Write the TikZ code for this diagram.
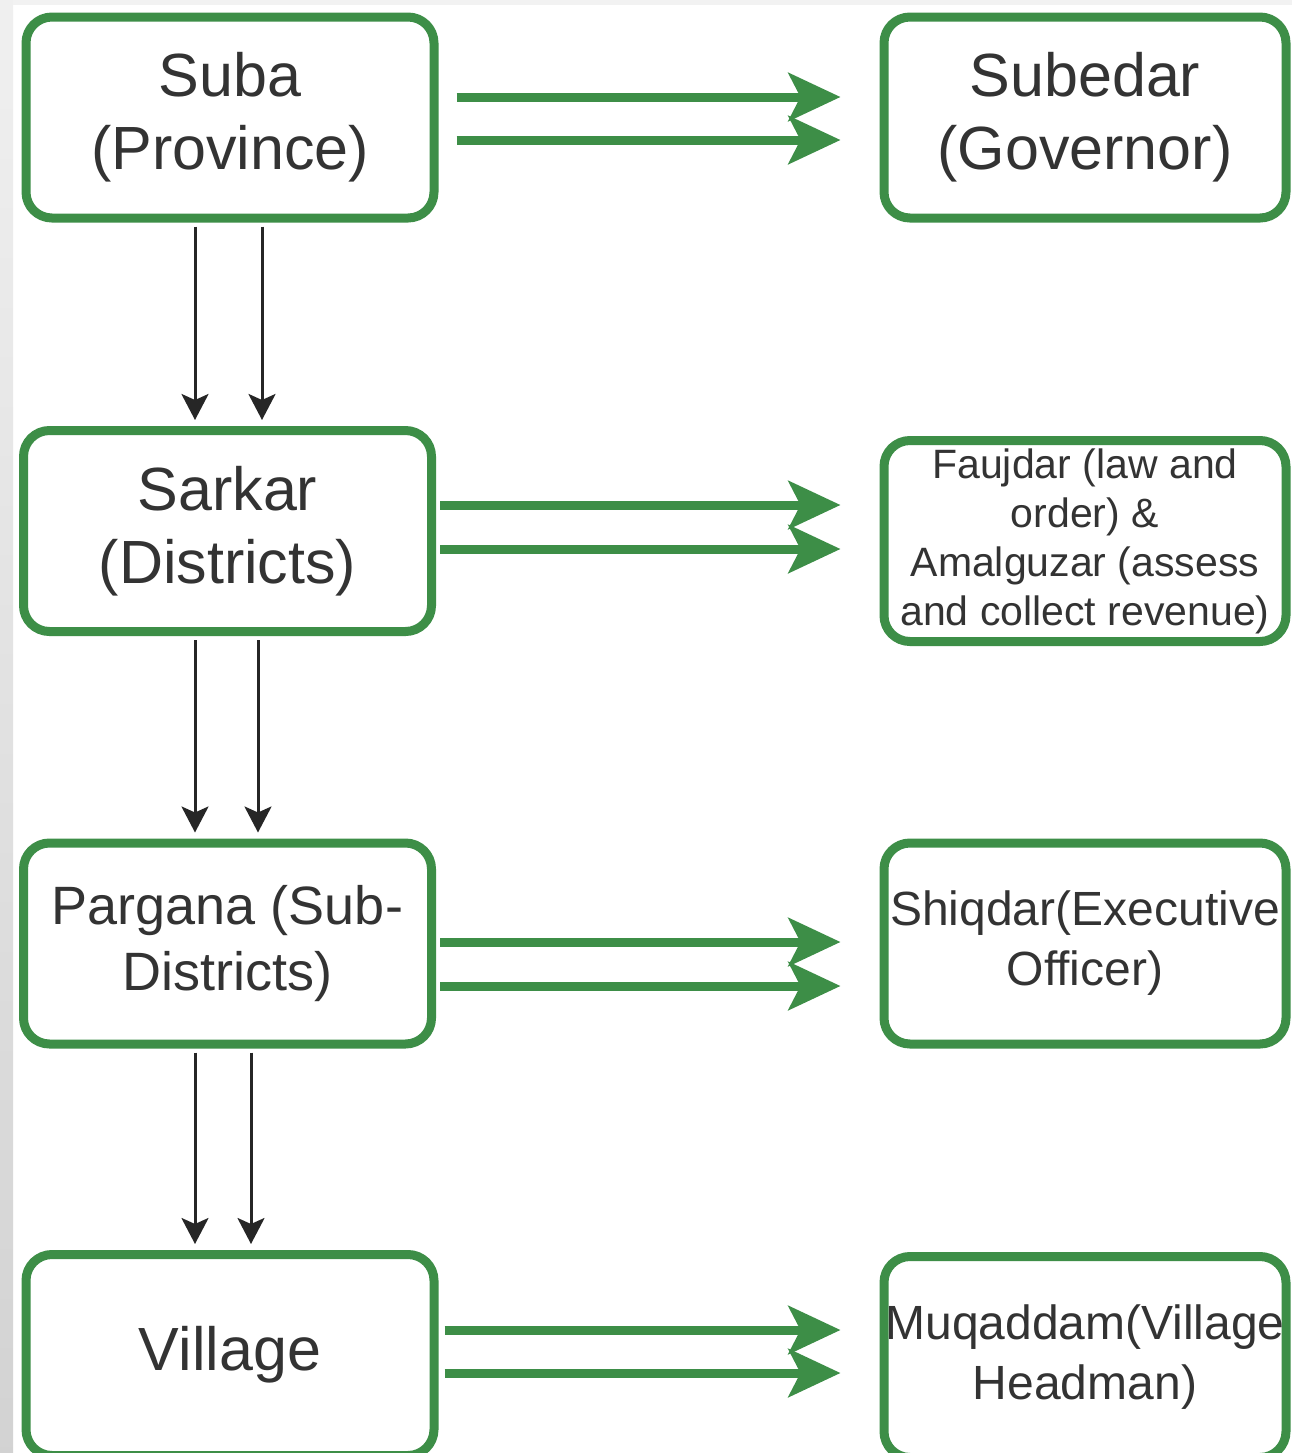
\documentclass[tikz,border=0pt]{standalone}
\usepackage{fontspec}
\setmainfont{Liberation Sans}
\usetikzlibrary{arrows.meta,calc}
\definecolor{boxgreen}{RGB}{61,142,71}
\definecolor{txt}{RGB}{51,51,51}
\begin{document}
\begin{tikzpicture}[x=0.5pt,y=-0.5pt,
  box/.style={draw=boxgreen, line width=4.5pt, rounded corners=13pt, fill=white,
    align=center, text=txt, inner sep=0pt},
  leftbox/.style={box, minimum width=204pt, minimum height=100.5pt},
  rightbox/.style={box, minimum width=201pt, minimum height=100.5pt},
  bigtext/.style={font=\fontsize{30.5}{36.5}\selectfont},
  midtext/.style={font=\fontsize{27}{33}\selectfont},
  smalltext/.style={font=\fontsize{24}{30}\selectfont},
  tinytext/.style={font=\fontsize{20.5}{24.5}\selectfont},
  garrow/.style={draw=boxgreen, line width=4.5pt,
    -{Stealth[length=26pt,width=24pt,inset=6pt]}},
  karrow/.style={draw=black!85, line width=1.5pt,
    -{Stealth[length=13pt,width=13.5pt,inset=3pt]}}
]
\useasboundingbox (0,0) rectangle (1292,1453);
\fill[white] (0,0) rectangle (1292,1453);
\shade[top color=gray!12, bottom color=gray!35] (0,0) rectangle (13,1453);
\fill[gray!10] (13,0) rectangle (1292,5);

% left column
\node[leftbox,bigtext] (suba) at (230,117.5) {Suba\\(Province)};
\node[leftbox,bigtext] (sarkar) at (227.5,531) {Sarkar\\(Districts)};
\node[leftbox,midtext] (pargana) at (227.5,943.5) {Pargana (Sub-\\Districts)};
\node[leftbox,bigtext] (village) at (230,1355) {Village};

% right column
\node[rightbox,bigtext] (subedar) at (1085,117.5) {Subedar\\(Governor)};
\node[rightbox,tinytext] (faujdar) at (1085,541) {Faujdar (law and\\order) \&\\Amalguzar (assess\\and collect revenue)};
\node[rightbox,smalltext] (shiqdar) at (1085,943.5) {Shiqdar(Executive\\Officer)};
\node[rightbox,smalltext] (muqaddam) at (1085,1357) {Muqaddam(Village\\Headman)};

% green double arrows
\draw[garrow, shorten <=9pt, shorten >=19.5pt] ($(suba.east)+(0,-20.5)$) -- ($(subedar.west)+(0,-20.5)$);
\draw[garrow, shorten <=9pt, shorten >=19.5pt] ($(suba.east)+(0,22.5)$) -- ($(subedar.west)+(0,22.5)$);
\draw[garrow, shorten <=2pt, shorten >=19.5pt] ($(sarkar.east)+(0,-26)$) -- ($(faujdar.west)+(0,-36)$);
\draw[garrow, shorten <=2pt, shorten >=19.5pt] ($(sarkar.east)+(0,18)$) -- ($(faujdar.west)+(0,8)$);
\draw[garrow, shorten <=2pt, shorten >=19.5pt] ($(pargana.east)+(0,-1.5)$) -- ($(shiqdar.west)+(0,-1.5)$);
\draw[garrow, shorten <=2pt, shorten >=19.5pt] ($(pargana.east)+(0,42.5)$) -- ($(shiqdar.west)+(0,42.5)$);
\draw[garrow, shorten <=3pt, shorten >=19.5pt] ($(village.east)+(0,-25)$) -- ($(muqaddam.west)+(0,-27)$);
\draw[garrow, shorten <=3pt, shorten >=19.5pt] ($(village.east)+(0,18)$) -- ($(muqaddam.west)+(0,16)$);

% black double arrows
\draw[karrow, shorten <=2pt, shorten >=3pt] ($(suba.south)+(-35,0)$) -- ($(sarkar.north)+(-32.5,0)$);
\draw[karrow, shorten <=2pt, shorten >=3pt] ($(suba.south)+(32,0)$) -- ($(sarkar.north)+(34.5,0)$);
\draw[karrow, shorten <=2pt, shorten >=3pt] ($(sarkar.south)+(-32.5,0)$) -- ($(pargana.north)+(-32.5,0)$);
\draw[karrow, shorten <=2pt, shorten >=3pt] ($(sarkar.south)+(30.5,0)$) -- ($(pargana.north)+(30.5,0)$);
\draw[karrow, shorten <=2pt, shorten >=3pt] ($(pargana.south)+(-32.5,0)$) -- ($(village.north)+(-35,0)$);
\draw[karrow, shorten <=2pt, shorten >=3pt] ($(pargana.south)+(23.5,0)$) -- ($(village.north)+(21,0)$);
\end{tikzpicture}
\end{document}
